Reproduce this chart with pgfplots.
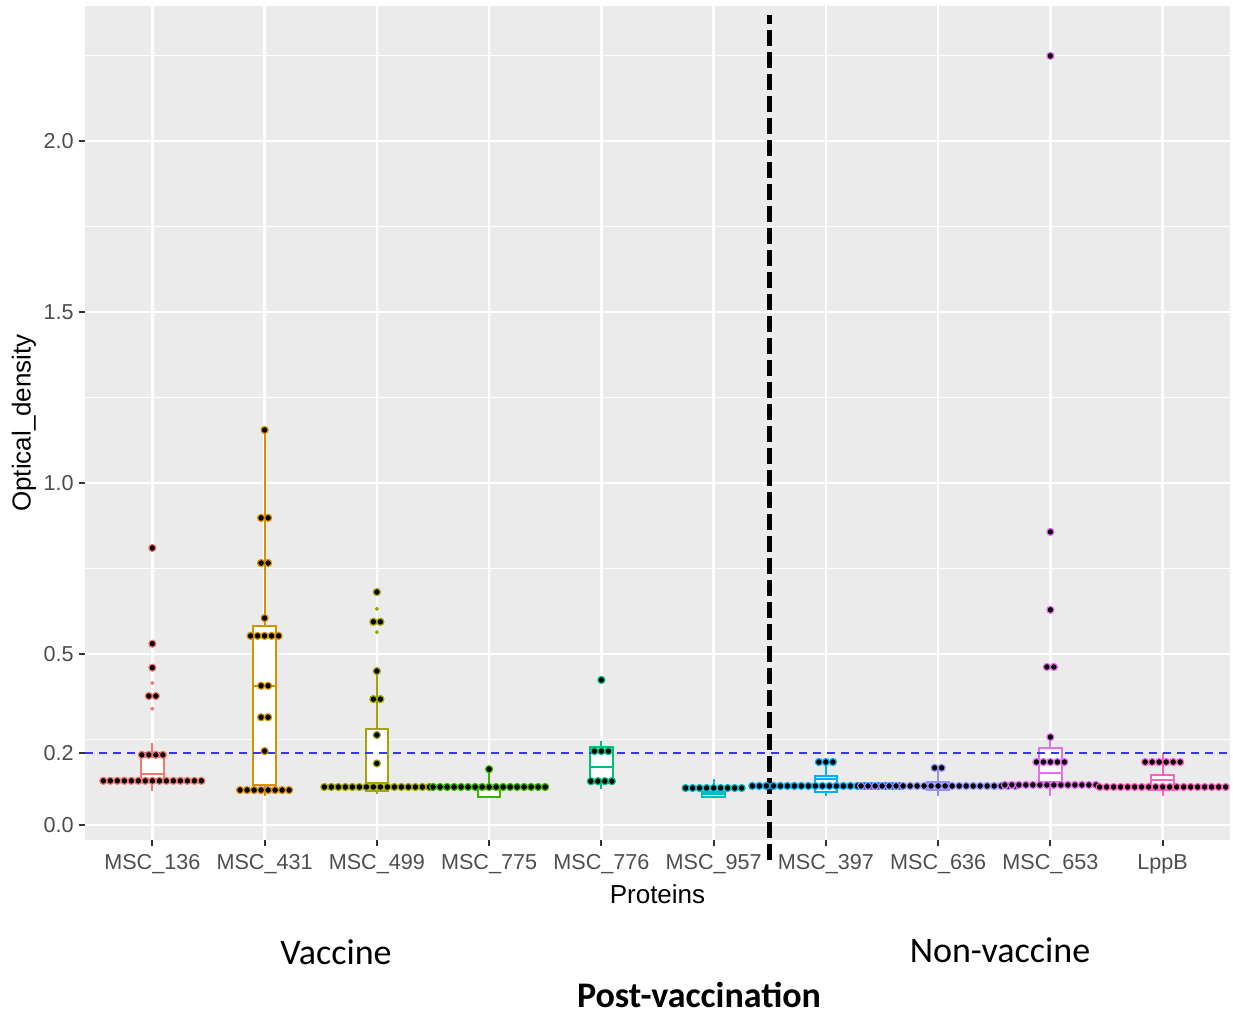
\documentclass[border=0pt]{standalone}
\usepackage{pgfplots}
\pgfplotsset{compat=1.18}
\usepgfplotslibrary{statistics}
\usepackage{fontspec}
\setmainfont{Liberation Sans}
\newfontfamily\calibri{Carlito}

% ggplot2 hue palette for ten groups
\definecolor{c1}{HTML}{F8766D}
\definecolor{c2}{HTML}{D89000}
\definecolor{c3}{HTML}{A3A500}
\definecolor{c4}{HTML}{39B600}
\definecolor{c5}{HTML}{00BF7D}
\definecolor{c6}{HTML}{00BFC4}
\definecolor{c7}{HTML}{00B0F6}
\definecolor{c8}{HTML}{9590FF}
\definecolor{c9}{HTML}{E76BF3}
\definecolor{c10}{HTML}{FF62BC}
\definecolor{panel}{HTML}{EBEBEB}
\definecolor{ticktext}{HTML}{4D4D4D}
\definecolor{tickmark}{HTML}{333333}
\definecolor{cutoff}{RGB}{55,55,240}

\pgfplotsset{
  dots/.style={only marks, mark=*, mark size=1.75bp,
    mark options={draw=#1, fill=black, line width=0.6bp}},
  outl/.style={only marks, mark=*, mark size=0.8bp,
    mark options={draw=#1, fill=#1}},
  bx/.style={draw=#1, fill=white, line width=1bp},
  boxplot/draw direction=y,
}

\begin{document}
\begin{tikzpicture}
\path[use as bounding box] (0,0) rectangle (616.5bp,508bp);
\begin{axis}[
  at={(42.5bp,88bp)}, anchor=south west,
  scale only axis, width=572.5bp, height=417bp,
  xmin=0.4, xmax=10.6, ymin=-0.044, ymax=2.395,
  clip=false,
  axis background/.style={fill=panel},
  axis line style={draw=none},
  xtick={1,...,10},
  xticklabels={MSC\_136,MSC\_431,MSC\_499,MSC\_775,MSC\_776,MSC\_957,MSC\_397,MSC\_636,MSC\_653,LppB},
  ytick={0,0.5,1,1.5,2},
  yticklabels={0.0,0.5,1.0,1.5,2.0},
  extra y ticks={0.21}, extra y tick labels={0.2},
  extra y tick style={grid=none},
  minor ytick={0.25,0.75,1.25,1.75,2.25},
  xmajorgrids, ymajorgrids, yminorgrids,
  major grid style={white, line width=1.3bp},
  minor grid style={white, line width=0.7bp},
  xtick pos=bottom, ytick pos=left,
  tick align=outside, major tick length=3bp, minor tick length=0pt,
  major tick style={tickmark, line width=1bp},
  minor tick style={draw=none},
  /pgf/number format/assume math mode=true,
  ticklabel style={font=\fontsize{10.8bp}{13bp}\selectfont, text=ticktext},
  xticklabel style={inner sep=0pt, yshift=-4bp},
  yticklabel style={inner sep=0pt, xshift=-2.5bp},
  xlabel={Proteins},
  ylabel={Optical\_density},
  label style={font=\fontsize{13bp}{15bp}\selectfont},
  xlabel style={at={(axis description cs:0.5,-0.0647)}, anchor=center},
  ylabel style={at={(axis description cs:-0.0533,0.5)}, anchor=center, rotate=0},
]

% ---- boxplots ----
\addplot[bx=c1, boxplot prepared={draw position=1, lower whisker=0.10, lower quartile=0.134, median=0.149, upper quartile=0.20, upper whisker=0.24, box extend=0.2, whisker extend=0}] coordinates {};
\addplot[bx=c2, boxplot prepared={draw position=2, lower whisker=0.085, lower quartile=0.117, median=0.407, upper quartile=0.582, upper whisker=1.155, box extend=0.2, whisker extend=0}] coordinates {};
\addplot[bx=c3, boxplot prepared={draw position=3, lower whisker=0.09, lower quartile=0.10, median=0.123, upper quartile=0.281, upper whisker=0.45, box extend=0.2, whisker extend=0}] coordinates {};
\addplot[bx=c4, boxplot prepared={draw position=4, lower whisker=0.08, lower quartile=0.082, median=0.106, upper quartile=0.108, upper whisker=0.163, box extend=0.2, whisker extend=0}] coordinates {};
\addplot[bx=c5, boxplot prepared={draw position=5, lower whisker=0.105, lower quartile=0.123, median=0.17, upper quartile=0.228, upper whisker=0.246, box extend=0.2, whisker extend=0}] coordinates {};
\addplot[bx=c6, boxplot prepared={draw position=6, lower whisker=0.08, lower quartile=0.082, median=0.09, upper quartile=0.096, upper whisker=0.134, box extend=0.2, whisker extend=0}] coordinates {};
\addplot[bx=c7, boxplot prepared={draw position=7, lower whisker=0.085, lower quartile=0.096, median=0.134, upper quartile=0.143, upper whisker=0.184, box extend=0.2, whisker extend=0}] coordinates {};
\addplot[bx=c8, boxplot prepared={draw position=8, lower whisker=0.085, lower quartile=0.102, median=0.114, upper quartile=0.126, upper whisker=0.167, box extend=0.2, whisker extend=0}] coordinates {};
\addplot[bx=c9, boxplot prepared={draw position=9, lower whisker=0.085, lower quartile=0.126, median=0.152, upper quartile=0.225, upper whisker=0.257, box extend=0.2, whisker extend=0}] coordinates {};
\addplot[bx=c10, boxplot prepared={draw position=10, lower whisker=0.085, lower quartile=0.102, median=0.132, upper quartile=0.146, upper whisker=0.21, box extend=0.2, whisker extend=0}] coordinates {};

% ---- boxplot outliers ----
\addplot[outl=c1] coordinates {(1,0.34) (1,0.377) (1,0.415) (1,0.46) (1,0.53) (1,0.81)};
\addplot[outl=c3] coordinates {(3,0.564) (3,0.594) (3,0.632) (3,0.681)};
\addplot[outl=c5] coordinates {(5,0.424)};
\addplot[outl=c9] coordinates {(9,0.462) (9,0.629) (9,0.857) (9,2.249)};

% ---- cut-off ----
\addplot[cutoff, line width=1bp, dash pattern=on 4bp off 3bp] coordinates {(0.4,0.21) (10.6,0.21)};

% ---- dot plots ----
\addplot[dots=c1] coordinates {
 (0.5632,0.129) (0.6256,0.129) (0.688,0.129) (0.7504,0.129) (0.8128,0.129) (0.8752,0.129) (0.9376,0.129) (1,0.129)
 (1.0624,0.129) (1.1248,0.129) (1.1872,0.129) (1.2496,0.129) (1.312,0.129) (1.3744,0.129) (1.4368,0.129)
 (0.9064,0.205) (0.9688,0.205) (1.0312,0.205) (1.0936,0.205)
 (0.9688,0.377) (1.0312,0.377) (1,0.46) (1,0.53) (1,0.81)};
\addplot[dots=c2] coordinates {
 (1.7816,0.102) (1.844,0.102) (1.9064,0.102) (1.9688,0.102) (2.0312,0.102) (2.0936,0.102) (2.156,0.102) (2.2184,0.102)
 (2,0.216) (1.9688,0.315) (2.0312,0.315) (1.9688,0.407) (2.0312,0.407)
 (1.8752,0.553) (1.9376,0.553) (2,0.553) (2.0624,0.553) (2.1248,0.553)
 (2,0.605) (1.9688,0.766) (2.0312,0.766) (1.9688,0.898) (2.0312,0.898) (2,1.155)};
\addplot[dots=c3] coordinates {
 (2.532,0.111) (2.5944,0.111) (2.6568,0.111) (2.7192,0.111) (2.7816,0.111) (2.844,0.111) (2.9064,0.111) (2.9688,0.111)
 (3.0312,0.111) (3.0936,0.111) (3.156,0.111) (3.2184,0.111) (3.2808,0.111) (3.3432,0.111) (3.4056,0.111) (3.468,0.111)
 (3,0.18) (3,0.263) (2.9688,0.368) (3.0312,0.368) (3,0.45) (2.9688,0.594) (3.0312,0.594) (3,0.681)};
\addplot[dots=c4] coordinates {
 (3.5008,0.111) (3.5632,0.111) (3.6256,0.111) (3.688,0.111) (3.7504,0.111) (3.8128,0.111) (3.8752,0.111) (3.9376,0.111) (4,0.111)
 (4.0624,0.111) (4.1248,0.111) (4.1872,0.111) (4.2496,0.111) (4.312,0.111) (4.3744,0.111) (4.4368,0.111) (4.4992,0.111)
 (4,0.163)};
\addplot[dots=c5] coordinates {
 (4.9064,0.128) (4.9688,0.128) (5.0312,0.128) (5.0936,0.128)
 (4.9376,0.216) (5,0.216) (5.0624,0.216) (5,0.424)};
\addplot[dots=c6] coordinates {
 (5.7504,0.108) (5.8128,0.108) (5.8752,0.108) (5.9376,0.108) (6,0.108) (6.0624,0.108) (6.1248,0.108) (6.1872,0.108) (6.2496,0.108)};
\addplot[dots=c7] coordinates {
 (6.3448,0.114) (6.4072,0.114) (6.4696,0.114) (6.532,0.114) (6.5944,0.114) (6.6568,0.114) (6.7192,0.114) (6.7816,0.114)
 (6.844,0.114) (6.9064,0.114) (6.9688,0.114) (7.0312,0.114) (7.0936,0.114) (7.156,0.114) (7.2184,0.114) (7.2808,0.114)
 (7.3432,0.114) (7.4056,0.114) (7.468,0.114) (7.5304,0.114) (7.5928,0.114) (7.6552,0.114)
 (6.9376,0.184) (7,0.184) (7.0624,0.184)};
\addplot[dots=c8] coordinates {
 (7.3136,0.114) (7.376,0.114) (7.4384,0.114) (7.5008,0.114) (7.5632,0.114) (7.6256,0.114) (7.688,0.114) (7.7504,0.114)
 (7.8128,0.114) (7.8752,0.114) (7.9376,0.114) (8,0.114) (8.0624,0.114) (8.1248,0.114) (8.1872,0.114) (8.2496,0.114)
 (8.312,0.114) (8.3744,0.114) (8.4368,0.114) (8.4992,0.114) (8.5616,0.114) (8.624,0.114) (8.6864,0.114)
 (7.9688,0.167) (8.0312,0.167)};
\addplot[dots=c9] coordinates {
 (8.5944,0.117) (8.6568,0.117) (8.7192,0.117) (8.7816,0.117) (8.844,0.117) (8.9064,0.117) (8.9688,0.117)
 (9.0312,0.117) (9.0936,0.117) (9.156,0.117) (9.2184,0.117) (9.2808,0.117) (9.3432,0.117) (9.4056,0.117)
 (8.8752,0.184) (8.9376,0.184) (9,0.184) (9.0624,0.184) (9.1248,0.184)
 (9,0.257) (8.9688,0.462) (9.0312,0.462) (9,0.629) (9,0.857) (9,2.249)};
\addplot[dots=c10] coordinates {
 (9.4384,0.111) (9.5008,0.111) (9.5632,0.111) (9.6256,0.111) (9.688,0.111) (9.7504,0.111) (9.8128,0.111) (9.8752,0.111)
 (9.9376,0.111) (10,0.111) (10.0624,0.111) (10.1248,0.111) (10.1872,0.111) (10.2496,0.111) (10.312,0.111) (10.3744,0.111)
 (10.4368,0.111) (10.4992,0.111) (10.5616,0.111)
 (9.844,0.184) (9.9064,0.184) (9.9688,0.184) (10.0312,0.184) (10.0936,0.184) (10.156,0.184)};

% ---- divider between vaccine and non-vaccine proteins ----
\addplot[black, line width=2.5bp, dash pattern=on 8bp off 3bp] coordinates {(6.5,-0.102) (6.5,2.368)};
\end{axis}

\node[font=\calibri\fontsize{18bp}{21bp}\selectfont] at (168bp,32bp) {Vaccine};
\node[font=\calibri\fontsize{18bp}{21bp}\selectfont] at (500bp,33bp) {Non-vaccine};
\node[font=\calibri\bfseries\fontsize{18bp}{21bp}\selectfont] at (349.5bp,10.5bp) {Post-vaccination};
\end{tikzpicture}
\end{document}
